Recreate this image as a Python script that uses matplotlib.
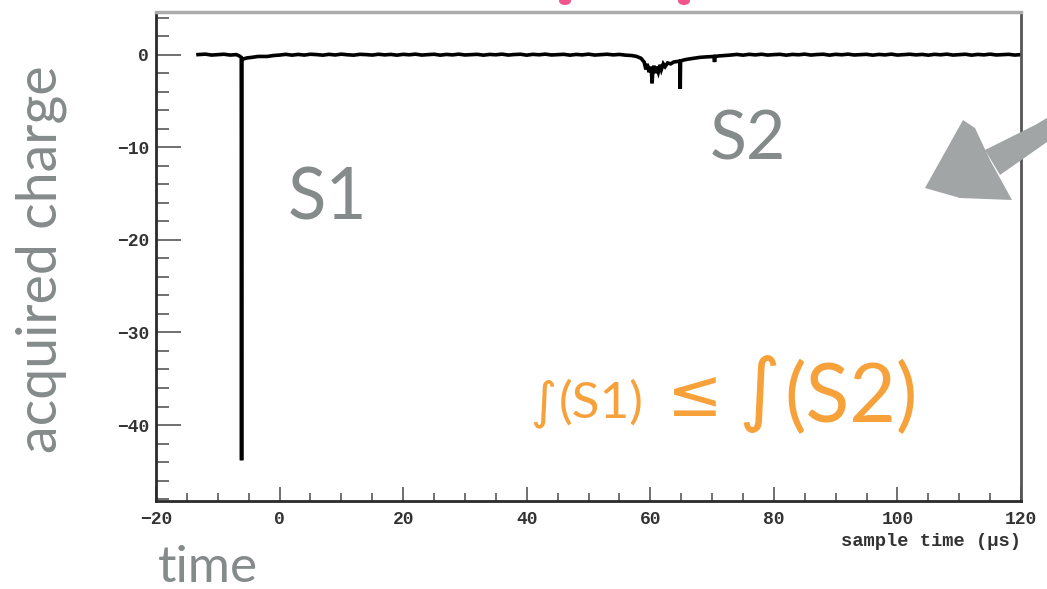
import matplotlib
matplotlib.use('Agg')
import matplotlib.pyplot as plt
from matplotlib.patches import Polygon, Ellipse
from matplotlib.ticker import MultipleLocator

# waveform samples (time in us, charge)
t_wave = [-13.2, -12, -11, -10, -9, -8, -7, -6.5, -6.2, -6.15, -6.1, -5.8, -5.2, -4.5, -3.5,
          -2, -1, 0, 1, 2, 3, 4, 5, 6, 7, 8, 9, 10, 11, 12, 13, 14, 15, 16, 17, 18, 19,
          20, 21, 22, 23, 24, 25, 26, 27, 28, 29, 30, 31, 32, 33, 34, 35, 36, 37, 38,
          39, 40, 41, 42, 43, 44, 45, 46, 47, 48, 49, 50, 51, 52, 53, 54, 55, 56, 57,
          57.8, 58.5, 59.0, 59.3, 59.5, 59.8, 60.0, 60.2, 60.3, 60.4, 60.6, 60.8, 61.0,
          61.3, 61.6, 61.8, 62.1, 62.4, 62.8, 63.3, 63.8, 64.3, 64.8, 64.85, 64.9, 65.3,
          66, 67, 68, 69, 70.3, 70.4, 70.5, 71, 72, 73, 74, 75, 76, 77, 78, 79, 80, 81,
          82, 83, 84, 85, 86, 87, 88, 89, 90, 91, 92, 93, 94, 95, 96, 97, 98, 99, 100,
          101, 102, 103, 104, 105, 106, 107, 108, 109, 110, 111, 112, 113, 114, 115,
          116, 117, 118, 119, 120]
q_wave = [0.0, 0.05, -0.05, 0.0, 0.04, -0.05, 0.0, -0.15, -0.3, -43.8, -0.6, -0.45, -0.35,
          -0.3, -0.2, -0.2, -0.1, -0.05, 0.03, -0.06, 0.02, -0.05, 0.04, 0.0, -0.06,
          0.03, -0.04, 0.05, -0.02, -0.06, 0.03, 0.0, -0.05, 0.04, -0.03, 0.02, -0.06,
          0.03, -0.02, 0.05, -0.05, 0.0, 0.04, -0.06, 0.02, -0.03, 0.05, -0.04, 0.0,
          0.03, -0.06, 0.02, -0.02, 0.05, -0.05, 0.01, 0.04, -0.06, 0.03, -0.02, 0.05,
          -0.04, 0.0, 0.03, -0.06, 0.02, -0.03, 0.05, -0.05, 0.0, 0.04, -0.03, 0.02,
          -0.06, -0.1, -0.2, -0.4, -0.8, -1.6, -1.0, -1.9, -1.3, -2.0, -3.1, -1.7, -1.2,
          -2.0, -1.3, -1.9, -1.1, -1.6, -1.0, -1.3, -0.9, -1.0, -0.8, -0.75, -0.7, -3.7,
          -0.7, -0.6, -0.5, -0.4, -0.3, -0.25, -0.2, -0.8, -0.2, -0.15, -0.1, -0.05,
          0.02, -0.06, 0.03, -0.03, 0.04, -0.05, 0.0, 0.03, -0.06, 0.02, -0.02, 0.05,
          -0.05, 0.01, 0.04, -0.06, 0.03, -0.02, 0.05, -0.04, 0.0, 0.03, -0.06, 0.02,
          -0.03, 0.05, -0.05, 0.0, 0.04, -0.03, 0.02, -0.06, 0.03, -0.02, 0.05, -0.05,
          0.0, 0.04, -0.06, 0.02, -0.03, 0.05, -0.04, 0.0, 0.03, -0.05, 0.0]

x_major = [-20, 0, 20, 40, 60, 80, 100, 120]
y_major = [-40, -30, -20, -10, 0]

W, H = 1047, 589
gray_txt = '#858a8a'
orange = '#f7a13b'

fig = plt.figure(figsize=(W / 100, H / 100), dpi=100)
ax = fig.add_axes([156 / W, 1 - 501 / H, (1021 - 156) / W, (501 - 12) / H])

ax.plot(t_wave, q_wave, color='black', lw=2.6, solid_joinstyle='miter')
ax.set_xlim(-20, 120)
ax.set_ylim(-48.2, 4.6)

ax.set_xticks(x_major)
ax.set_yticks(y_major)
ax.xaxis.set_minor_locator(MultipleLocator(5))
ax.yaxis.set_minor_locator(MultipleLocator(2))
ax.set_xticklabels([str(v).replace('-', '\u2212') for v in x_major])
ax.set_yticklabels([str(v).replace('-', '\u2212') for v in y_major])

mono = dict(family='Liberation Mono', weight='bold')
for lab in ax.get_xticklabels() + ax.get_yticklabels():
    lab.set_fontfamily('Liberation Mono')
    lab.set_fontweight('bold')
    lab.set_fontsize(13)
    lab.set_color('#333333')

ax.tick_params(axis='y', which='major', direction='in', length=18, width=1.4,
               color='#707070', pad=5)
ax.tick_params(axis='y', which='minor', direction='in', length=9, width=1.4,
               color='#707070')
ax.tick_params(axis='x', which='major', direction='in', length=10, width=1.4,
               color='#707070', pad=7)
ax.tick_params(axis='x', which='minor', direction='in', length=6, width=1.4,
               color='#707070')

for side in ['left', 'bottom', 'right']:
    ax.spines[side].set_color('#2a2a2a')
    ax.spines[side].set_linewidth(2.0)
ax.spines['right'].set_color('#555555')
ax.spines['top'].set_color('#ababab')
ax.spines['top'].set_linewidth(2.5)

ax.set_xlabel('sample time (\u03bcs)', fontsize=13.5, color='#333333', **mono)
ax.xaxis.set_label_coords(1.0, -0.065)
ax.xaxis.label.set_horizontalalignment('right')


def px(x, y):
    return x / W, 1 - y / H


sans = ['Lato', 'DejaVu Sans']
fig.text(*px(41, 259), 'acquired charge', rotation=90, ha='center', va='center',
         fontsize=40, color=gray_txt, family=sans)
fig.text(*px(158, 582), 'time', ha='left', va='baseline', fontsize=37,
         color=gray_txt, family=sans)
fig.text(*px(288, 220), 'S1', ha='left', va='baseline', fontsize=51,
         color=gray_txt, family=sans)
fig.text(*px(710, 160), 'S2', ha='left', va='baseline', fontsize=49,
         color=gray_txt, family=sans)

# formula: integral signs and <= from DejaVu, letters from Lato
fig.text(*px(530, 404), '\u222b', ha='left', va='center', fontsize=36,
         color=orange, family='DejaVu Sans')
fig.text(*px(559, 418), '(S1)', ha='left', va='baseline', fontsize=37,
         color=orange, family='Lato')
fig.text(*px(667, 397), '\u2264', ha='left', va='center', fontsize=48,
         color=orange, family='DejaVu Sans')
fig.text(*px(738, 394), '\u222b', ha='left', va='center', fontsize=58,
         color=orange, family='DejaVu Sans')
fig.text(*px(784, 422), '(S2)', ha='left', va='baseline', fontsize=58,
         color=orange, family='Lato')

# hand-drawn arrow pointing at the peak
arrow_col = '#a2a5a5'
head = [px(963, 120), px(975, 128), px(990, 160), px(1012, 200), px(960, 198),
        px(925, 188)]
shaft = [px(985, 150), px(1035, 125), px(1047, 118), px(1047, 142), px(1000, 175)]
fig.patches.append(Polygon(head, closed=True, transform=fig.transFigure,
                           facecolor=arrow_col, edgecolor='none'))
fig.patches.append(Polygon(shaft, closed=True, transform=fig.transFigure,
                           facecolor=arrow_col, edgecolor='none'))

# pink marks cut at the top edge
for xc in (565, 684):
    fig.patches.append(Ellipse(px(xc, 1), 12 / W, 8 / H, transform=fig.transFigure,
                               facecolor='#f2548c', edgecolor='none'))

fig.savefig('out.png', dpi=100)
